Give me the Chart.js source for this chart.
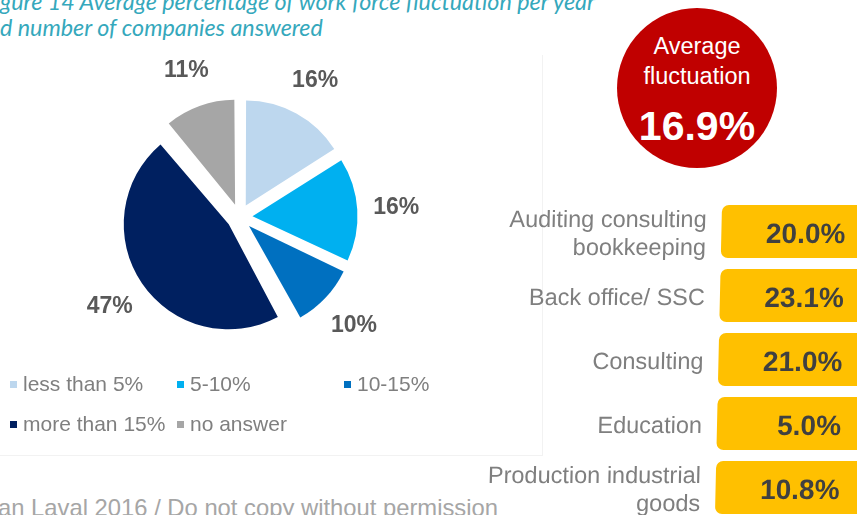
<!DOCTYPE html>
<html>
<head>
<meta charset="utf-8">
<script src="https://cdn.jsdelivr.net/npm/chart.js@4"></script>
<style>
  html, body { margin: 0; padding: 0; background: #fff; }
  body { width: 857px; height: 515px; position: relative; overflow: hidden; font-family: "Liberation Sans", Arial, sans-serif; }
  .title { position: absolute; left: 0; font-family: Lato, "Open Sans", sans-serif; font-style: italic; font-size: 23.3px; color: #35a8bc; white-space: nowrap; line-height: 1; }
  #frame { position: absolute; left: -1px; top: 55px; width: 543px; height: 400px; border-right: 1px solid #f2f2f2; border-bottom: 1px solid #f2f2f2; }
  #pie { position: absolute; left: 0; top: 60px; }
  #legend { position: absolute; left: 10px; top: 370px; display: grid; grid-template-columns: 167px 167px 167px; row-gap: 12px; }
  #legend .item { display: flex; align-items: center; font-size: 21px; color: #7f7f7f; height: 28px; white-space: nowrap; }
  #legend .box { width: 7px; height: 7px; margin-right: 6px; flex: none; }
  #footer { position: absolute; left: -2px; top: 494px; font-size: 23.8px; color: #a6a6a6; white-space: nowrap; }
  #avg { position: absolute; left: 617px; top: 8px; width: 160px; height: 160px; border-radius: 50%; background: #c00000; color: #fff; text-align: center; }
  #avg .lbl { position: absolute; left: 0; right: 0; font-size: 23.5px; line-height: 1; }
  #avg .num { position: absolute; left: 0; right: 0; font-size: 41px; font-weight: bold; line-height: 1; }
  #sectors { position: absolute; left: 0; top: 0; width: 857px; height: 515px; transform: skewX(-1.3deg); transform-origin: 0 205px; }
  .row { position: absolute; left: 0; width: 900px; height: 53px; }
  .row .name { position: absolute; right: 193px; top: 0; height: 53px; display: flex; align-items: center; justify-content: flex-end; text-align: right; font-size: 23.5px; line-height: 28.5px; color: #7f7f7f; padding-top: 3px; box-sizing: border-box; }
  .row .val { position: absolute; left: 722px; top: 0; width: 200px; height: 53px; border-radius: 7px; background: #ffc000; box-sizing: border-box; padding-right: 76px; padding-top: 4px; display: flex; align-items: center; justify-content: flex-end; font-size: 28px; font-weight: bold; color: #404040; }
</style>
</head>
<body>
<div class="title" style="top:-10px">gure 14 Average percentage of work force fluctuation per year</div>
<div class="title" style="top:16px">d number of companies answered</div>
<div id="frame"></div>
<canvas id="pie" width="479" height="314"></canvas>
<div id="legend"></div>
<div id="footer">an Laval 2016 / Do not copy without permission</div>
<div id="avg">
  <div class="lbl" style="top:27px">Average</div>
  <div class="lbl" style="top:57px">fluctuation</div>
  <div class="num" style="top:98px" id="avgNum"></div>
</div>
<div id="sectors"></div>
<script>
// share of companies per fluctuation band (%)
var bands = ["less than 5%", "5-10%", "10-15%", "more than 15%", "no answer"];
var bandShares = [16, 16, 10, 47, 11];
var bandColors = ["#bdd7ee", "#00b0f0", "#0070c0", "#002060", "#a6a6a6"];

// average fluctuation per sector (%)
var sectors = ["Auditing consulting<br>bookkeeping", "Back office/ SSC", "Consulting", "Education", "Production industrial<br>goods"];
var sectorRates = [20.0, 23.1, 21.0, 5.0, 10.8];
var averageRate = 16.9;

var EXPLODE = 52;

// Chart.js grows small exploded slices by offset/4 * (1 - sin(angle));
// shrink them back so every slice keeps the same radius
var evenRadius = {
    id: "evenRadius",
    beforeDatasetsDraw: function (chart) {
        var meta = chart.getDatasetMeta(0);
        var base = meta.controller.outerRadius;
        meta.data.forEach(function (arc) {
            var fix = 1 - Math.sin(Math.min(Math.PI, arc.circumference));
            arc.outerRadius = base - (EXPLODE / 4) * fix;
        });
    }
};

// percentage labels sitting outside each slice
var outsideLabels = {
    id: "outsideLabels",
    afterDatasetsDraw: function (chart) {
        var ctx = chart.ctx;
        var meta = chart.getDatasetMeta(0);
        var r = meta.controller.outerRadius + 52;
        ctx.save();
        ctx.font = "bold 23px 'Liberation Sans', Arial, sans-serif";
        ctx.fillStyle = "#595959";
        ctx.textAlign = "center";
        ctx.textBaseline = "middle";
        meta.data.forEach(function (arc, i) {
            var mid = (arc.startAngle + arc.endAngle) / 2;
            ctx.fillText(chart.data.datasets[0].data[i] + "%", arc.x + Math.cos(mid) * r, arc.y + Math.sin(mid) * r + 1);
        });
        ctx.restore();
    }
};

var chart = new Chart(document.getElementById("pie").getContext("2d"), {
    type: "pie",
    data: {
        labels: bands,
        datasets: [{
            data: bandShares,
            backgroundColor: bandColors,
            borderWidth: 0,
            offset: EXPLODE
        }]
    },
    options: {
        responsive: false,
        animation: false,
        radius: 105,
        plugins: {
            legend: { display: false },
            tooltip: { enabled: false }
        }
    },
    plugins: [evenRadius, outsideLabels]
});

// legend in a fixed three-column grid
var legend = document.getElementById("legend");
bands.forEach(function (b, i) {
    var item = document.createElement("div");
    item.className = "item";
    item.innerHTML = '<span class="box" style="background:' + bandColors[i] + '"></span>' + b;
    legend.appendChild(item);
});

document.getElementById("avgNum").textContent = averageRate.toFixed(1) + "%";

var panel = document.getElementById("sectors");
sectors.forEach(function (s, i) {
    var row = document.createElement("div");
    row.className = "row";
    row.style.top = (205 + i * 64) + "px";
    row.innerHTML = '<div class="name">' + s + '</div><div class="val">' + sectorRates[i].toFixed(1) + '%</div>';
    panel.appendChild(row);
});
</script>
</body>
</html>
